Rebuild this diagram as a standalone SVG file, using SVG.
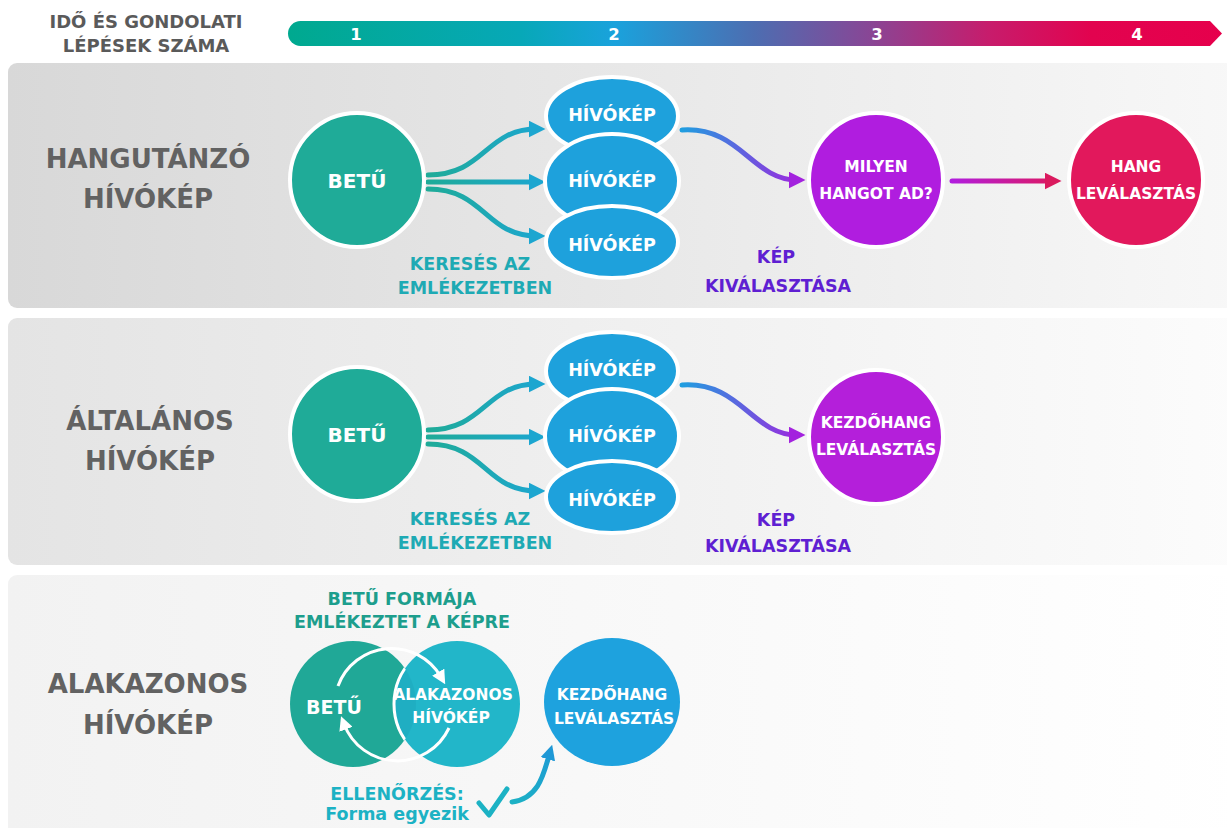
<svg xmlns="http://www.w3.org/2000/svg" width="1227" height="828" viewBox="0 0 1227 828">
<defs>
<style>
text{font-family:"DejaVu Sans","Liberation Sans",sans-serif;font-weight:bold;text-anchor:middle}
.lbl{font-size:26px;fill:#626262}
.hdr{font-size:18px;fill:#5a5a5a}
.num{font-size:16.5px;fill:#fff}
.w{fill:#fff}
.teal{font-size:17.5px;fill:#1eaab4}
.purp{font-size:17.5px;fill:#5f1fd2}
.ring{stroke:#fff;stroke-width:4}
.conn{fill:none;stroke-width:5;stroke-linecap:round}
</style>
<linearGradient id="bar" gradientUnits="userSpaceOnUse" x1="288" y1="0" x2="1222" y2="0">
<stop offset="0" stop-color="#00a98f"/>
<stop offset="0.25" stop-color="#07a8b8"/>
<stop offset="0.35" stop-color="#1aa2dc"/>
<stop offset="0.5" stop-color="#4d6db1"/>
<stop offset="0.62" stop-color="#874796"/>
<stop offset="0.75" stop-color="#c71c6c"/>
<stop offset="0.86" stop-color="#e2034f"/>
<stop offset="1" stop-color="#e6004c"/>
</linearGradient>
<linearGradient id="p1" x1="0" y1="0" x2="1" y2="0">
<stop offset="0" stop-color="#d8d8d8"/><stop offset="1" stop-color="#f8f8f8"/>
</linearGradient>
<linearGradient id="p2" x1="0" y1="0" x2="1" y2="0">
<stop offset="0" stop-color="#e4e4e4"/><stop offset="1" stop-color="#fcfcfc"/>
</linearGradient>
<linearGradient id="p3" x1="0" y1="0" x2="1" y2="0">
<stop offset="0" stop-color="#f2f2f2"/><stop offset="1" stop-color="#ffffff"/>
</linearGradient>
<linearGradient id="fan" gradientUnits="userSpaceOnUse" x1="428" y1="0" x2="545" y2="0">
<stop offset="0" stop-color="#1fab98"/><stop offset="1" stop-color="#1ca6d2"/>
</linearGradient>
<linearGradient id="bp" gradientUnits="userSpaceOnUse" x1="682" y1="0" x2="805" y2="0">
<stop offset="0" stop-color="#1f9ee0"/><stop offset="1" stop-color="#a322de"/>
</linearGradient>
<linearGradient id="pr" gradientUnits="userSpaceOnUse" x1="950" y1="0" x2="1062" y2="0">
<stop offset="0" stop-color="#b01de0"/><stop offset="1" stop-color="#e0185a"/>
</linearGradient>
<linearGradient id="tb" gradientUnits="userSpaceOnUse" x1="510" y1="803" x2="556" y2="745">
<stop offset="0" stop-color="#1cb2c4"/><stop offset="1" stop-color="#1e98d6"/>
</linearGradient>
<marker id="mFan" viewBox="0 0 10 10" refX="5" refY="5" markerUnits="userSpaceOnUse" markerWidth="17" markerHeight="17" orient="auto">
<path d="M0,0 L10,5 L0,10 z" fill="#1ca6d0"/>
</marker>
<marker id="mBP" viewBox="0 0 10 10" refX="5" refY="5" markerUnits="userSpaceOnUse" markerWidth="17" markerHeight="17" orient="auto">
<path d="M0,0 L10,5 L0,10 z" fill="#a322de"/>
</marker>
<marker id="mPR" viewBox="0 0 10 10" refX="5" refY="5" markerUnits="userSpaceOnUse" markerWidth="17" markerHeight="17" orient="auto">
<path d="M0,0 L10,5 L0,10 z" fill="#da1a5e"/>
</marker>
<marker id="mTB" viewBox="0 0 10 10" refX="5" refY="5" markerUnits="userSpaceOnUse" markerWidth="15" markerHeight="15" orient="auto">
<path d="M0,0 L10,5 L0,10 z" fill="#1e98d6"/>
</marker>
<marker id="mW" viewBox="0 0 10 10" refX="4" refY="5" markerUnits="userSpaceOnUse" markerWidth="14" markerHeight="14" orient="auto">
<path d="M0,0 L10,5 L0,10 z" fill="#fff"/>
</marker>
<clipPath id="clipL"><circle cx="353" cy="704" r="63"/></clipPath>
</defs>

<rect width="1227" height="828" fill="#fff"/>

<g id="header">
<text class="hdr" x="146" y="28">IDŐ ÉS GONDOLATI</text>
<text class="hdr" x="146" y="52">LÉPÉSEK SZÁMA</text>
<path d="M300.5,21 H1210 L1222,33.5 L1210,46 H300.5 A12.5,12.5 0 0 1 300.5,21 Z" fill="url(#bar)"/>
<text class="num" x="356" y="40">1</text>
<text class="num" x="614" y="40">2</text>
<text class="num" x="877" y="40">3</text>
<text class="num" x="1137" y="40">4</text>
</g>

<g id="panels">
<rect x="8" y="63" width="1240" height="245" rx="9" fill="url(#p1)"/>
<rect x="8" y="318" width="1240" height="247" rx="9" fill="url(#p2)"/>
<rect x="8" y="575" width="1240" height="262" rx="9" fill="url(#p3)"/>
</g>

<g id="row-labels">
<text class="lbl" x="148" y="168">HANGUTÁNZÓ</text>
<text class="lbl" x="148" y="208">HÍVÓKÉP</text>
<text class="lbl" x="150" y="430">ÁLTALÁNOS</text>
<text class="lbl" x="150" y="470">HÍVÓKÉP</text>
<text class="lbl" x="148" y="693">ALAKAZONOS</text>
<text class="lbl" x="148" y="734">HÍVÓKÉP</text>
</g>

<g id="connectors">
<path class="conn" stroke="url(#fan)" d="M428,175 C485,175 485,129 537,129" marker-end="url(#mFan)"/>
<path class="conn" stroke="url(#fan)" d="M428,182 L537,182" marker-end="url(#mFan)"/>
<path class="conn" stroke="url(#fan)" d="M428,189 C485,189 485,236 537,236" marker-end="url(#mFan)"/>
<path class="conn" stroke="url(#bp)" d="M682,130 C740,126 752,180 797,180" marker-end="url(#mBP)"/>
<path class="conn" stroke="url(#pr)" d="M952,181 L1053,181" marker-end="url(#mPR)"/>

<g transform="translate(0,255)">
<path class="conn" stroke="url(#fan)" d="M428,175 C485,175 485,129 537,129" marker-end="url(#mFan)"/>
<path class="conn" stroke="url(#fan)" d="M428,182 L537,182" marker-end="url(#mFan)"/>
<path class="conn" stroke="url(#fan)" d="M428,189 C485,189 485,236 537,236" marker-end="url(#mFan)"/>
<path class="conn" stroke="url(#bp)" d="M682,130 C740,126 752,180 797,180" marker-end="url(#mBP)"/>
</g>

<path class="conn" stroke-width="4" stroke="url(#tb)" d="M512,802 C540,798 544,772 550,752" marker-end="url(#mTB)"/>
</g>

<g id="betu-1">
<circle class="ring" cx="357" cy="180" r="67" fill="#1fab98"/>
<text class="w" x="357" y="188" font-size="20">BETŰ</text>
</g>
<g id="hivokep-1">
<ellipse class="ring" cx="612" cy="116" rx="66" ry="39" fill="#1ea1dc"/>
<ellipse class="ring" cx="612" cy="181" rx="67" ry="47" fill="#1ea1dc"/>
<ellipse class="ring" cx="612" cy="242" rx="66" ry="36" fill="#1ea1dc"/>
<text class="w" x="612" y="121" font-size="17.5">HÍVÓKÉP</text>
<text class="w" x="612" y="187" font-size="17.5">HÍVÓKÉP</text>
<text class="w" x="612" y="251" font-size="17.5">HÍVÓKÉP</text>
</g>
<g id="milyen">
<circle class="ring" cx="876" cy="180" r="67" fill="#b01ddf"/>
<text class="w" x="876" y="172" font-size="15.5">MILYEN</text>
<text class="w" x="876" y="199" font-size="15.5">HANGOT AD?</text>
</g>
<g id="hang">
<circle class="ring" cx="1136" cy="180" r="67" fill="#e2185c"/>
<text class="w" x="1136" y="172" font-size="15.5">HANG</text>
<text class="w" x="1136" y="199" font-size="15.5">LEVÁLASZTÁS</text>
</g>
<g id="labels-1">
<text class="teal" x="470" y="270">KERESÉS AZ</text>
<text class="teal" x="475" y="294">EMLÉKEZETBEN</text>
<text class="purp" x="776" y="263">KÉP</text>
<text class="purp" x="778" y="292">KIVÁLASZTÁSA</text>
</g>

<g id="betu-2">
<circle class="ring" cx="357" cy="434" r="67" fill="#1fab98"/>
<text class="w" x="357" y="442" font-size="20">BETŰ</text>
</g>
<g id="hivokep-2">
<ellipse class="ring" cx="612" cy="371" rx="66" ry="39" fill="#1ea1dc"/>
<ellipse class="ring" cx="612" cy="436" rx="67" ry="47" fill="#1ea1dc"/>
<ellipse class="ring" cx="612" cy="497" rx="66" ry="36" fill="#1ea1dc"/>
<text class="w" x="612" y="376" font-size="17.5">HÍVÓKÉP</text>
<text class="w" x="612" y="442" font-size="17.5">HÍVÓKÉP</text>
<text class="w" x="612" y="506" font-size="17.5">HÍVÓKÉP</text>
</g>
<g id="kezdohang-2">
<circle class="ring" cx="876" cy="437" r="67" fill="#b41fda"/>
<text class="w" x="876" y="428" font-size="15.5">KEZDŐHANG</text>
<text class="w" x="876" y="455" font-size="15.5">LEVÁLASZTÁS</text>
</g>
<g id="labels-2">
<text class="teal" x="470" y="525">KERESÉS AZ</text>
<text class="teal" x="475" y="549">EMLÉKEZETBEN</text>
<text class="purp" x="776" y="526">KÉP</text>
<text class="purp" x="778" y="552">KIVÁLASZTÁSA</text>
</g>

<g id="alakazonos-pair">
<circle cx="353" cy="704" r="63" fill="#20a897"/>
<circle cx="457" cy="704" r="63" fill="#22b6c9"/>
<circle cx="457" cy="704" r="63" fill="#0f7f90" opacity="0.12" clip-path="url(#clipL)"/>
<circle cx="457" cy="704" r="63" fill="none" stroke="#fff" stroke-width="3" clip-path="url(#clipL)"/>
<path d="M338,686 A57,57 0 0 1 441,677" fill="none" stroke="#fff" stroke-width="3" marker-end="url(#mW)"/>
<path d="M449,728 A57,57 0 0 1 344,724" fill="none" stroke="#fff" stroke-width="3" marker-end="url(#mW)"/>
<text class="w" x="334" y="714" font-size="19">BETŰ</text>
<text class="w" x="453" y="700" font-size="15.5">ALAKAZONOS</text>
<text class="w" x="451" y="723" font-size="15.5">HÍVÓKÉP</text>
</g>
<g id="kezdohang-3">
<ellipse cx="612" cy="702" rx="68" ry="64" fill="#1ea2de"/>
<text class="w" x="612" y="700" font-size="15.5">KEZDŐHANG</text>
<text class="w" x="614" y="724" font-size="15.5">LEVÁLASZTÁS</text>
</g>
<g id="labels-3">
<text x="402" y="605" font-size="17.5" fill="#1d9e8d">BETŰ FORMÁJA</text>
<text x="402" y="628" font-size="17.5" fill="#1d9e8d">EMLÉKEZTET A KÉPRE</text>
<text x="397" y="800" font-size="17.5" fill="#1cb2c4">ELLENŐRZÉS:</text>
<text x="397" y="820" font-size="17.5" fill="#1cb2c4">Forma egyezik</text>
<path d="M479,803 L489,815 L507,789" fill="none" stroke="#1cb2c4" stroke-width="5" stroke-linecap="round" stroke-linejoin="round"/>
</g>
</svg>
